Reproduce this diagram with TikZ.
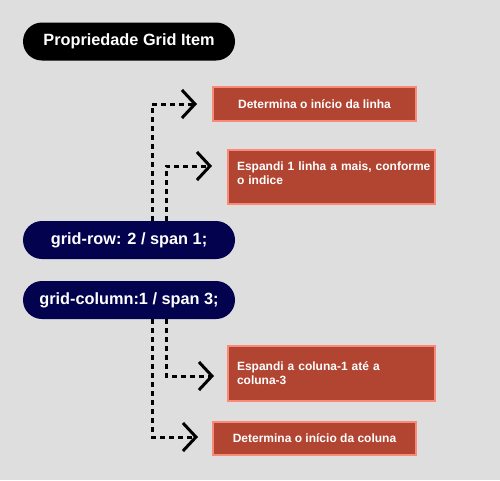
\documentclass[tikz,border=0pt]{standalone}
\usepackage{fontspec}
\setmainfont{Liberation Sans}
\usetikzlibrary{arrows.meta}
\definecolor{bg}{HTML}{DEDEDE}
\definecolor{navy}{HTML}{02024E}
\definecolor{boxred}{HTML}{B24432}
\definecolor{boxedge}{HTML}{F98A78}
\begin{document}
\begin{tikzpicture}[x=1pt,y=-1pt,
  pill/.style={rounded corners=19pt, minimum width=212pt, minimum height=38pt,
    text=white, font=\bfseries\fontsize{16.3}{18}\selectfont, inner sep=0pt},
  note/.style={fill=boxred, draw=boxedge, line width=2pt, text=white,
    font=\bfseries\fontsize{12}{14}\selectfont, inner sep=0pt},
  link/.style={line width=3pt, dash pattern=on 5pt off 4pt,
    -{Straight Barb[length=13pt,width=28pt,line width=3pt]}}]
\useasboundingbox[fill=bg] (0,0) rectangle (500,480);

\node[pill, fill=black] (title) at (129,41.5) {Propriedade Grid Item};
\node[pill, fill=navy] (row) at (129,240) {grid-row: 2 / span 1;};
\node[pill, fill=navy] (col) at (129,300) {grid-column:1 / span 3;};

\node[note, minimum width=203pt, minimum height=34pt] (n1) at (314.5,104) {Determina o início da linha};
\node[note, minimum width=207pt, minimum height=54pt, align=left, text width=189pt] (n2) at (331.5,177)
  {\mbox{Espandi 1 linha a mais, conforme}\\o indice\\[-7pt]\mbox{}};
\node[note, minimum width=207pt, minimum height=55pt, align=left, text width=189pt] (n3) at (331.5,373.5)
  {\mbox{Espandi a coluna-1 até a}\\coluna-3};
\node[note, minimum width=203pt, minimum height=33pt] (n4) at (314.5,438.5) {Determina o início da coluna};

\coordinate (r1) at (152,104); \coordinate (r1e) at (197,104);
\coordinate (r2) at (166,166); \coordinate (r2e) at (212,166);
\coordinate (c1) at (166,376); \coordinate (c1e) at (214,376);
\coordinate (c2) at (152,437); \coordinate (c2e) at (198,437);

\draw[link] (row.north -| r1) -- (r1) -- (r1e);
\draw[link] (row.north -| r2) -- (r2) -- (r2e);
\draw[link] (col.south -| c1) -- (c1) -- (c1e);
\draw[link] (col.south -| c2) -- (c2) -- (c2e);
\end{tikzpicture}
\end{document}
